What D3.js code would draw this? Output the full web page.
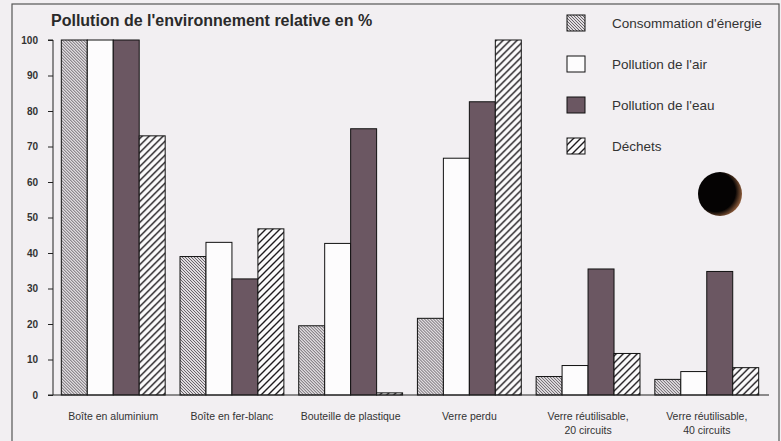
<!DOCTYPE html>
<html>
<head>
<meta charset="utf-8">
<script src="https://cdn.jsdelivr.net/npm/d3@7"></script>
<style>
  body { margin: 0; background: #f2eff2; }
  svg { display: block; font-family: "Liberation Sans", Arial, sans-serif; }
</style>
</head>
<body>
<svg id="chart" width="781" height="441"></svg>
<script>
// data
const groups = [
  ['Boîte en aluminium'],
  ['Boîte en fer-blanc'],
  ['Bouteille de plastique'],
  ['Verre perdu'],
  ['Verre réutilisable,', '20 circuits'],
  ['Verre réutilisable,', '40 circuits']
];
const seriesNames = ["Consommation d'énergie", "Pollution de l'air", "Pollution de l'eau", 'Déchets'];
const energie = [100, 39, 19.5, 21.6, 5.2, 4.4];
const air = [100, 43, 42.7, 66.7, 8.3, 6.6];
const eau = [100, 32.7, 75, 82.6, 35.5, 34.8];
const dechets = [73, 46.8, 0.6, 100, 11.7, 7.7];
const yTicks = [0, 10, 20, 30, 40, 50, 60, 70, 80, 90, 100];

const svg = d3.select('#chart');
const defs = svg.append('defs');

// fine "\" hatch for energy
const pe = defs.append('pattern').attr('id', 'hatch-energy')
  .attr('patternUnits', 'userSpaceOnUse').attr('width', 3).attr('height', 3);
pe.append('rect').attr('width', 3).attr('height', 3).attr('fill', '#e0dce0');
pe.append('path').attr('d', 'M-1,-1 L4,4 M-1,2 L1,4 M2,-1 L4,1')
  .attr('stroke', '#4a454a').attr('stroke-width', 0.8);

// wide "/" hatch for waste
const pw = defs.append('pattern').attr('id', 'hatch-waste')
  .attr('patternUnits', 'userSpaceOnUse').attr('width', 7).attr('height', 7);
pw.append('rect').attr('width', 7).attr('height', 7).attr('fill', '#fbfafb');
pw.append('path').attr('d', 'M-1,8 L8,-1 M-2,2 L2,-2 M5,9 L9,5')
  .attr('stroke', '#1e1a1e').attr('stroke-width', 1.4);

const fills = ['url(#hatch-energy)', '#fdfcfd', '#6b5762', 'url(#hatch-waste)'];

// frame
svg.append('rect').attr('x', 12).attr('y', 4).attr('width', 767).attr('height', 450)
  .attr('fill', 'none').attr('stroke', '#555').attr('stroke-width', 1.2);

const y = d3.scaleLinear().domain([0, 100]).range([395, 40]);
const x0 = d3.scaleBand().domain(d3.range(groups.length)).range([53, 767])
  .paddingInner(0.125).paddingOuter(0.07);
const x1 = d3.scaleBand().domain(d3.range(seriesNames.length)).range([0, x0.bandwidth()]);

const table = groups.map((g, i) => [energie[i], air[i], eau[i], dechets[i]]);

// bars
svg.append('g').selectAll('g').data(table).join('g')
  .attr('transform', (d, i) => `translate(${x0(i)},0)`)
  .selectAll('rect').data(d => d).join('rect')
  .attr('x', (d, j) => x1(j))
  .attr('width', x1.bandwidth())
  .attr('y', d => y(d))
  .attr('height', d => y(0) - y(d))
  .attr('fill', (d, j) => fills[j])
  .attr('stroke', '#111')
  .attr('stroke-width', 1);

// y axis
const yAxis = svg.append('g').attr('transform', 'translate(53,0)')
  .call(d3.axisLeft(y).tickValues(yTicks).tickSize(5).tickPadding(10));
yAxis.select('.domain').attr('stroke', '#222').attr('d', `M-5,${y(100)}H0V${y(0)}`);
yAxis.selectAll('.tick line').attr('stroke', '#222');
yAxis.selectAll('text').attr('font-size', 10).attr('font-weight', 'bold').attr('fill', '#333');

// x baseline
svg.append('line').attr('x1', 48).attr('x2', 769).attr('y1', y(0)).attr('y2', y(0))
  .attr('stroke', '#222').attr('stroke-width', 1);

// x labels
svg.append('g').selectAll('text').data(groups).join('text')
  .attr('x', (d, i) => x0(i) + x0.bandwidth() / 2)
  .attr('y', 420)
  .attr('text-anchor', 'middle')
  .attr('font-size', 10.5)
  .attr('fill', '#333')
  .selectAll('tspan').data(d => d).join('tspan')
  .attr('x', function () { return d3.select(this.parentNode).attr('x'); })
  .attr('dy', (d, k) => k === 0 ? 0 : 14)
  .text(d => d);

// title
svg.append('text').attr('x', 51).attr('y', 26)
  .attr('font-size', 16).attr('font-weight', 'bold').attr('fill', '#2a2a2a')
  .text("Pollution de l'environnement relative en %");

// legend
const legend = svg.append('g').selectAll('g').data(seriesNames).join('g')
  .attr('transform', (d, i) => `translate(567,${15 + i * 41})`);
legend.append('rect').attr('width', 18).attr('height', 16)
  .attr('fill', (d, i) => fills[i]).attr('stroke', '#111').attr('stroke-width', 1);
legend.append('text').attr('x', 45).attr('y', 13)
  .attr('font-size', 13.5).attr('fill', '#333').text(d => d);

// punched hole in the scanned sheet
const hole = defs.append('radialGradient').attr('id', 'hole').attr('cx', '40%').attr('cy', '45%').attr('r', '60%');
hole.append('stop').attr('offset', '0.75').attr('stop-color', '#050303');
hole.append('stop').attr('offset', '1').attr('stop-color', '#8a5a3a');
svg.append('circle').attr('cx', 720).attr('cy', 194).attr('r', 22).attr('fill', 'url(#hole)');
</script>
</body>
</html>
